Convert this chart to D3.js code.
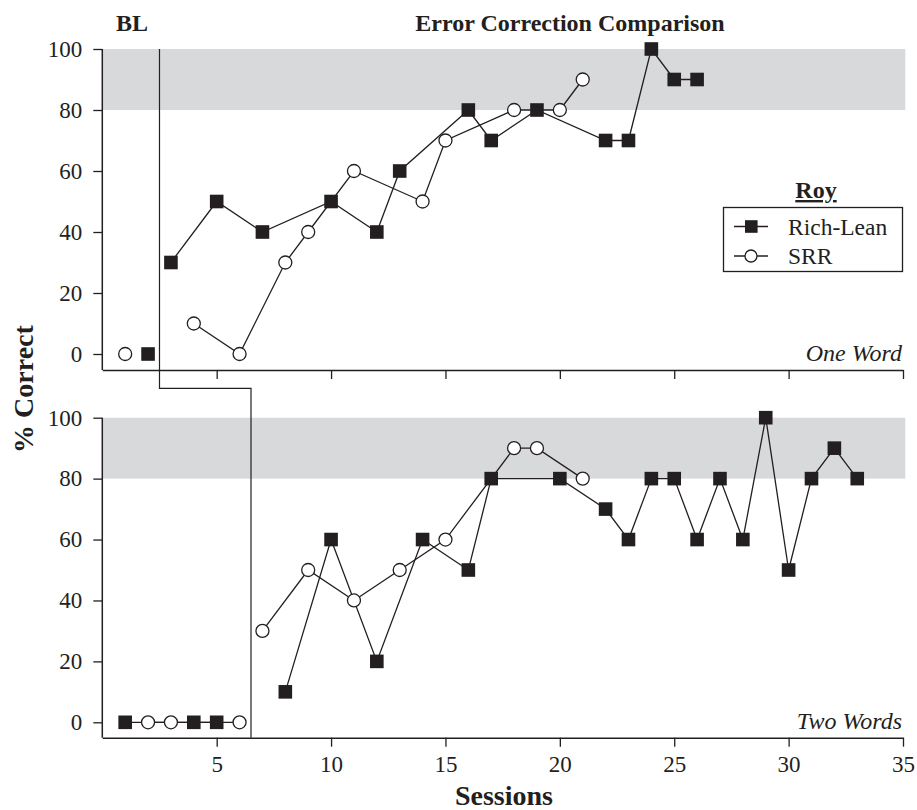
<!DOCTYPE html>
<html>
  <head>
    <title>Error Correction Comparison</title>
    <script src="https://d3js.org/d3.v7.min.js"></script>
    <style>
      body { margin: 0; background: #fff; }
      svg text { font-family: "Liberation Serif", "Times New Roman", serif; fill: #231f20; }
    </style>
  </head>
  <body>
    <svg width="917" height="810"></svg>
<script>
// Sessions x percent correct. BL = baseline, EC = error correction phase
const oneWordRichBL = [[2, 0]];
const oneWordRichEC = [[3, 30], [5, 50], [7, 40], [10, 50], [12, 40], [13, 60], [16, 80], [17, 70],
                       [19, 80], [22, 70], [23, 70], [24, 100], [25, 90], [26, 90]];
const oneWordSrrBL = [[1, 0]];
const oneWordSrrEC = [[4, 10], [6, 0], [8, 30], [9, 40], [11, 60], [14, 50], [15, 70], [18, 80],
                      [20, 80], [21, 90]];

const twoWordsRichBL = [[1, 0], [4, 0], [5, 0]];
const twoWordsRichEC = [[8, 10], [10, 60], [12, 20], [14, 60], [16, 50], [17, 80], [20, 80], [22, 70],
                        [23, 60], [24, 80], [25, 80], [26, 60], [27, 80], [28, 60], [29, 100], [30, 50],
                        [31, 80], [32, 90], [33, 80]];
const twoWordsSrrBL = [[2, 0], [3, 0], [6, 0]];
const twoWordsSrrEC = [[7, 30], [9, 50], [11, 40], [13, 50], [15, 60], [18, 90], [19, 90], [21, 80]];

const phaseChanges = [2.5, 6.5]; // one word, two words
const criterion = [80, 100];    // mastery band
const xTicks = [5, 10, 15, 20, 25, 30, 35];
const yTicks = [0, 20, 40, 60, 80, 100];

const ink = '#231f20';
const svg = d3.select('svg');

const x = d3.scaleLinear().domain([0, 35]).range([102.3, 903]);

// two stacked panels
const panels = [
  { name: 'One Word', rich: [oneWordRichBL, oneWordRichEC], srr: [oneWordSrrBL, oneWordSrrEC],
    y: d3.scaleLinear().domain([0, 100]).range([354, 49]), axisY: 370, labels: false },
  { name: 'Two Words', rich: [twoWordsRichBL, twoWordsRichEC], srr: [twoWordsSrrBL, twoWordsSrrEC],
    y: d3.scaleLinear().domain([0, 100]).range([722.3, 417.7]), axisY: 737.7, labels: true }
];

const line = y => d3.line().x(d => x(d[0])).y(d => y(d[1]));

panels.forEach(p => {
  const g = svg.append('g');

  // grey criterion band
  g.append('rect')
    .attr('x', x(0)).attr('width', x(35.1) - x(0))
    .attr('y', p.y(criterion[1])).attr('height', p.y(criterion[0]) - p.y(criterion[1]))
    .attr('fill', '#d8d9db');

  // y axis
  const yAx = g.append('g')
    .attr('transform', 'translate(' + x(0) + ',0)')
    .call(d3.axisLeft(p.y).tickValues(yTicks).tickSize(9).tickPadding(11));
  yAx.select('.domain').remove();
  yAx.selectAll('line').attr('stroke', ink).attr('stroke-width', 1.3);
  yAx.selectAll('text').attr('font-size', 23).attr('font-family', '"Liberation Serif", serif').attr('fill', ink);
  g.append('line')
    .attr('x1', x(0)).attr('x2', x(0))
    .attr('y1', p.y(100)).attr('y2', p.axisY)
    .attr('stroke', ink).attr('stroke-width', 1.5);

  // x axis
  const xAx = g.append('g')
    .attr('transform', 'translate(0,' + p.axisY + ')')
    .call(d3.axisBottom(x).tickValues(xTicks).tickSize(9).tickSizeOuter(0).tickPadding(9));
  xAx.select('.domain').attr('stroke', ink).attr('stroke-width', 1.5);
  xAx.selectAll('line').attr('stroke', ink).attr('stroke-width', 1.3);
  xAx.selectAll('text').attr('font-size', 23).attr('font-family', '"Liberation Serif", serif').attr('fill', ink)
    .style('display', p.labels ? null : 'none');

  // panel name
  g.append('text')
    .attr('x', 902).attr('y', p.axisY - 9)
    .attr('text-anchor', 'end')
    .attr('font-size', 24).attr('font-style', 'italic')
    .text(p.name);

  p.g = g;
});

// phase change line running through both panels
const yT = panels[0].y;
const stepY = 388.3;
svg.append('path')
  .attr('d', d3.line()([
    [x(phaseChanges[0]), yT(100)],
    [x(phaseChanges[0]), stepY],
    [x(phaseChanges[1]), stepY],
    [x(phaseChanges[1]), panels[1].axisY]
  ]))
  .attr('fill', 'none').attr('stroke', ink).attr('stroke-width', 1.2);

// data paths and markers
panels.forEach(p => {
  const ln = line(p.y);
  p.rich.concat(p.srr).forEach(seg => {
    p.g.append('path').attr('d', ln(seg))
      .attr('fill', 'none').attr('stroke', ink).attr('stroke-width', 1.3);
  });
  p.rich.forEach(seg => {
    p.g.selectAll(null).data(seg).enter().append('rect')
      .attr('x', d => x(d[0]) - 6.8).attr('y', d => p.y(d[1]) - 6.8)
      .attr('width', 13.6).attr('height', 13.6)
      .attr('fill', ink);
  });
  p.srr.forEach(seg => {
    p.g.selectAll(null).data(seg).enter().append('circle')
      .attr('cx', d => x(d[0])).attr('cy', d => p.y(d[1]))
      .attr('r', 6.5)
      .attr('fill', '#fff').attr('stroke', ink).attr('stroke-width', 1.3);
  });
});

// titles
svg.append('text').attr('x', 116).attr('y', 31)
  .attr('font-size', 24).attr('font-weight', 'bold').text('BL');
svg.append('text').attr('x', 570).attr('y', 31).attr('text-anchor', 'middle')
  .attr('font-size', 24).attr('font-weight', 'bold').text('Error Correction Comparison');

svg.append('text')
  .attr('transform', 'translate(33,389) rotate(-90)')
  .attr('text-anchor', 'middle')
  .attr('font-size', 28).attr('font-weight', 'bold').text('% Correct');
svg.append('text').attr('x', 504).attr('y', 805).attr('text-anchor', 'middle')
  .attr('font-size', 28).attr('font-weight', 'bold').text('Sessions');

// legend
const leg = svg.append('g');
leg.append('text').attr('x', 816).attr('y', 198).attr('text-anchor', 'middle')
  .attr('font-size', 24).attr('font-weight', 'bold').attr('text-decoration', 'underline').text('Roy');
leg.append('rect').attr('x', 723.5).attr('y', 207.5).attr('width', 179).attr('height', 64)
  .attr('fill', '#fff').attr('stroke', ink).attr('stroke-width', 1.3);
const legendItems = ['Rich-Lean', 'SRR'];
legendItems.forEach((name, i) => {
  const cy = 226.5 + i * 29.5;
  leg.append('line').attr('x1', 734).attr('x2', 768).attr('y1', cy).attr('y2', cy)
    .attr('stroke', ink).attr('stroke-width', 1.3);
  if (i === 0) {
    leg.append('rect').attr('x', 745).attr('y', cy - 6.3).attr('width', 12.6).attr('height', 12.6).attr('fill', ink);
  } else {
    leg.append('circle').attr('cx', 751).attr('cy', cy).attr('r', 6)
      .attr('fill', '#fff').attr('stroke', ink).attr('stroke-width', 1.3);
  }
  leg.append('text').attr('x', 788).attr('y', cy + 8).attr('font-size', 23.5).text(name);
});
</script>
  </body>
</html>
